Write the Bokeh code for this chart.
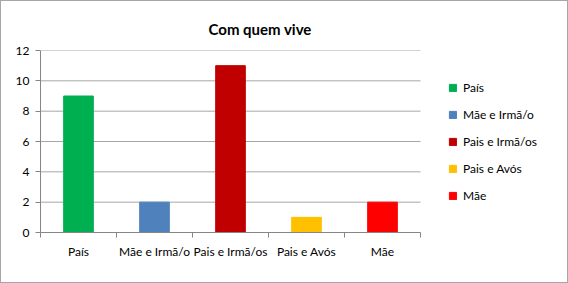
from bokeh.plotting import figure
from bokeh.models import ColumnDataSource, FixedTicker, Legend, LegendItem, Range1d
from bokeh.embed import file_html
from bokeh.resources import INLINE

categories = ["País", "Mãe e Irmã/o", "Pais e Irmã/os", "Pais e Avós", "Mãe"]
values = [9, 2, 11, 1, 2]
colors = ["#00B050", "#4F81BD", "#C00000", "#FFC000", "#FF0000"]
y_ticks = [0, 2, 4, 6, 8, 10, 12]

FONT = "Lato"
n = len(categories)
centers = [i + 0.5 for i in range(n)]
src = ColumnDataSource(dict(x=centers, top=values, color=colors, cat=categories))

# frame spans plot area + legend area (plot area = 380 px of 522 px)
x_end = n * 522 / 380
p = figure(width=566, height=281, output_backend="svg", toolbar_location=None,
           title="Com quem vive",
           x_range=Range1d(0, x_end), y_range=Range1d(0, 12),
           min_border_left=39, min_border_right=5, min_border_top=49, min_border_bottom=50)
p.styles = {"margin": "1px", "outline": "1px solid #a6a6a6"}
p.outline_line_color = None

# horizontal gridlines limited to the plot area
grid_src = ColumnDataSource(dict(y=y_ticks))
p.segment(x0=0, x1=n, y0="y", y1="y", source=grid_src, line_color="#a6a6a6", line_width=1)

r = p.vbar(x="x", top="top", width=0.39, color="color", source=src)

# title
p.title.align = "left"
p.title.offset = 168
p.title.standoff = 25
p.title.text_font = FONT
p.title.text_font_size = "15px"
p.title.text_font_style = "bold"
p.title.text_color = "black"

# y axis
p.yaxis.ticker = FixedTicker(ticks=y_ticks)
p.yaxis.axis_line_color = "#868686"
p.yaxis.major_tick_line_color = "#868686"
p.yaxis.major_tick_out = 5
p.yaxis.major_tick_in = 0
p.yaxis.minor_tick_line_color = None
p.yaxis.major_label_text_font = FONT
p.yaxis.major_label_text_font_size = "12px"
p.yaxis.major_label_text_color = "black"
p.yaxis.major_label_standoff = 6

# x axis
p.xaxis.bounds = (0, n)
p.xaxis.ticker = FixedTicker(ticks=centers, minor_ticks=list(range(n + 1)))
p.xaxis.major_label_overrides = {c: name for c, name in zip(centers, categories)}
p.xaxis.axis_line_color = "#868686"
p.xaxis.major_tick_line_color = None
p.xaxis.major_tick_out = 0
p.xaxis.major_tick_in = 0
p.xaxis.minor_tick_line_color = "#868686"
p.xaxis.minor_tick_out = 5
p.xaxis.minor_tick_in = 0
p.xaxis.major_label_text_font = FONT
p.xaxis.major_label_text_font_size = "12px"
p.xaxis.major_label_text_color = "black"
p.xaxis.major_label_standoff = 6

p.xgrid.grid_line_color = None
p.ygrid.grid_line_color = None

items = [LegendItem(label=categories[i], renderers=[r], index=i) for i in range(n)]
legend = Legend(items=items, location=(408, 29), orientation="vertical",
                label_text_font=FONT, label_text_font_size="12px", label_text_color="black",
                glyph_width=9, glyph_height=9, label_height=15, spacing=12,
                label_standoff=6, padding=0, margin=0, border_line_color=None,
                background_fill_alpha=0)
p.add_layout(legend)

open("out.html", "w").write(file_html(p, INLINE))
